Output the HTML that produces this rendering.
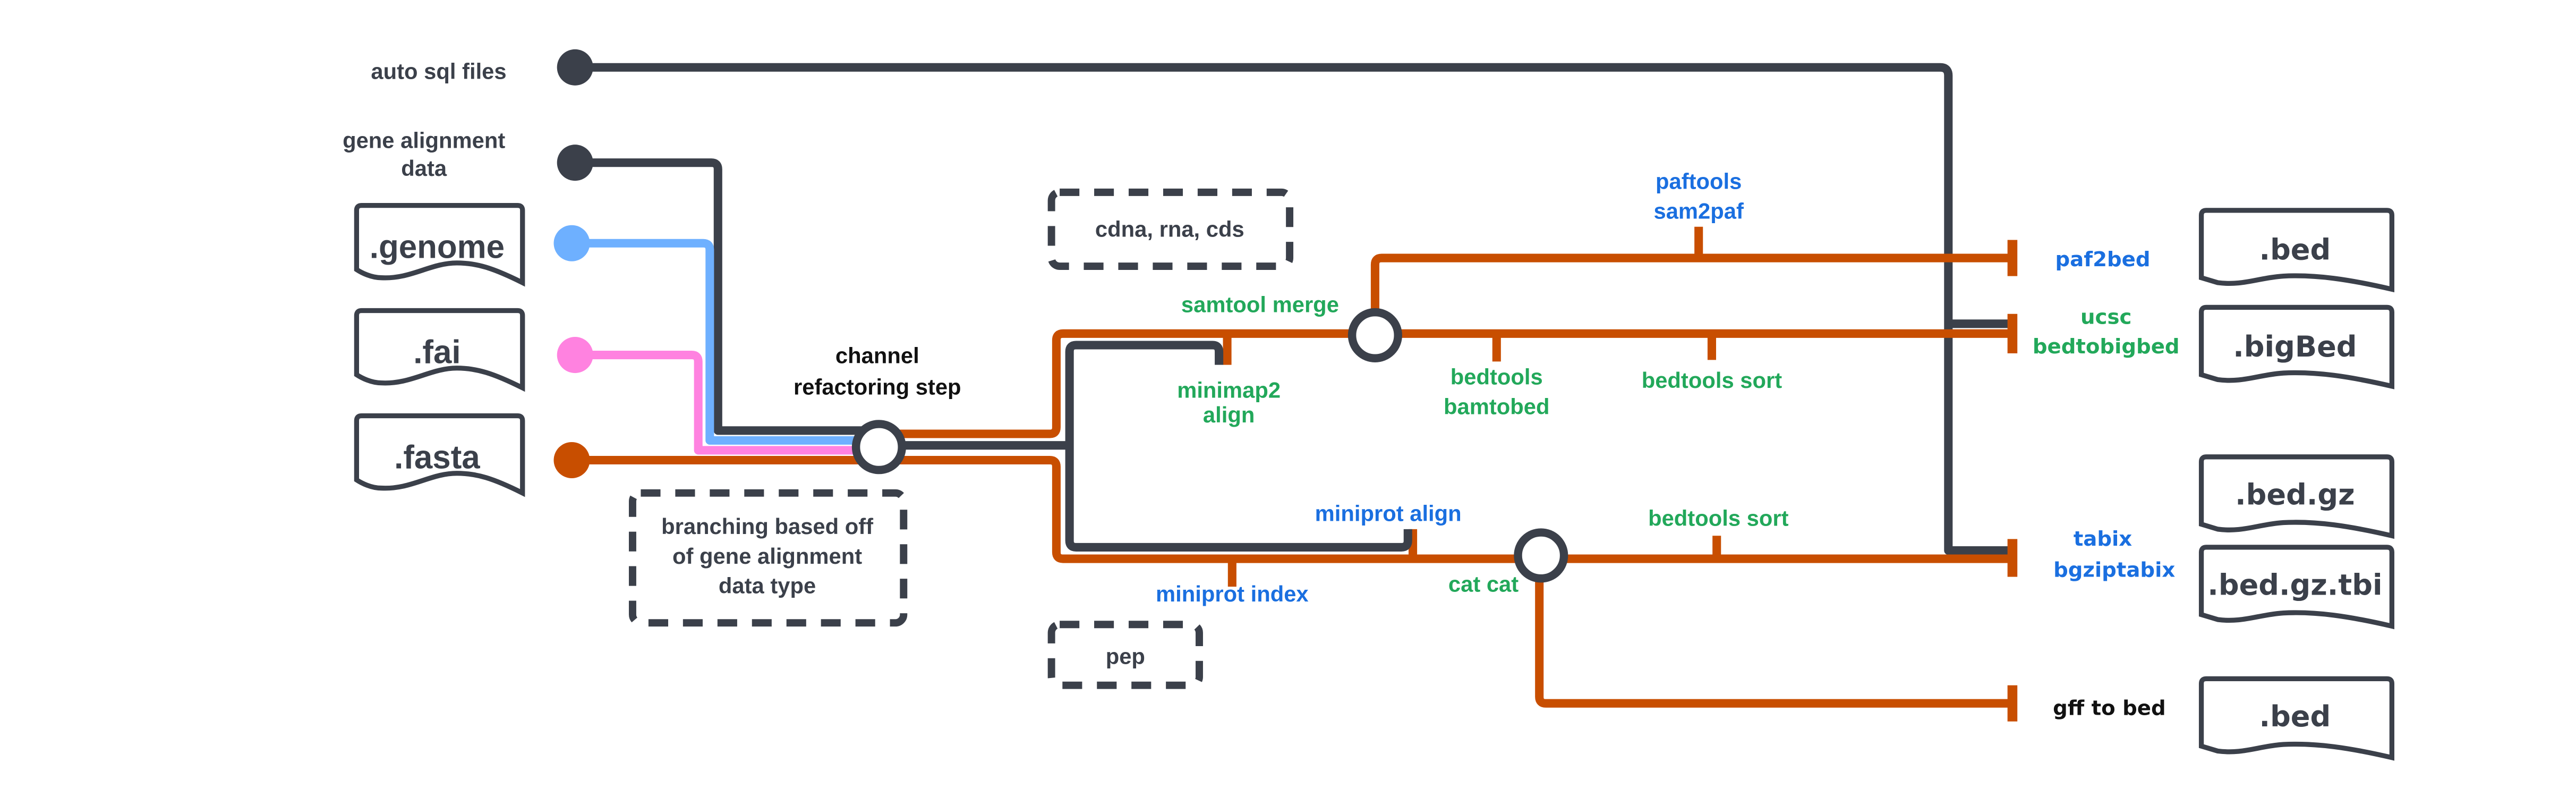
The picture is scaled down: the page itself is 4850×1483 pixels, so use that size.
<!DOCTYPE html>
<html><head><meta charset="utf-8"><style>
html,body{margin:0;padding:0;background:#fff;}
svg{display:block;}
text{font-family:"Liberation Sans",sans-serif;font-weight:bold;text-anchor:middle;}
.d{fill:#3b404a}.o{fill:#1a6fe0}.g{fill:#22a85a}.k{fill:#111}
.r text{font-family:"DejaVu Sans","Liberation Sans",sans-serif;}
</style></head><body>
<svg width="4850" height="1483" viewBox="0 0 1568 479.5" xmlns="http://www.w3.org/2000/svg">
<g fill="none" stroke-width="5.2" stroke-linejoin="round">
<path d="M350 41 H1181 Q1186 41 1186 46 V335 H1225 M1186 197 H1225" stroke="#3b404a"/>
<path d="M350 99 H433 Q437 99 437 103 V262 H535" stroke="#3b404a"/>
<path d="M348 148 H428 Q432 148 432 152 V268 H535" stroke="#6eb0ff"/>
<path d="M350 216 H421 Q425 216 425 220 V274 H535" stroke="#ff82e0"/>
<path d="M348 280 H535" stroke="#c84e00"/>
<path d="M535 264 H639 Q643 264 643 260 V207 Q643 203 647 203 H1225" stroke="#c84e00"/>
<path d="M535 280 H639 Q643 280 643 284 V336 Q643 340 647 340 H1225" stroke="#c84e00"/>
<path d="M837 203 V161 Q837 157 841 157 H1225" stroke="#c84e00"/>
<path d="M937 338 V424 Q937 428 941 428 H1225" stroke="#c84e00"/>
<path d="M747 203 V222 M911 203 V220 M1042 203 V219 M1034 138 V157 M750 340 V357 M860 322 V340 M1045 326 V340" stroke="#c84e00"/>
<path d="M535 271 H651 M651 271 V214 Q651 210 655 210 H738 Q742 210 742 214 V222 M651 271 V329 Q651 333 655 333 H853 Q857 333 857 329 V322" stroke="#3b404a"/>
</g>
<g fill="#c84e00">
<rect x="1222" y="146" width="6" height="22"/>
<rect x="1222" y="191" width="6" height="24"/>
<rect x="1222" y="328" width="6" height="23"/>
<rect x="1222" y="417" width="6" height="22"/>
</g>
<circle cx="350" cy="41" r="11" fill="#3b404a"/>
<circle cx="350" cy="99" r="11" fill="#3b404a"/>
<circle cx="348" cy="148" r="11" fill="#6eb0ff"/>
<circle cx="350" cy="216" r="11" fill="#ff82e0"/>
<circle cx="348" cy="280" r="11" fill="#c84e00"/>
<g fill="#fff" stroke="#3b404a" stroke-width="5">
<circle cx="535" cy="272" r="14"/>
<circle cx="837" cy="204" r="14"/>
<circle cx="938" cy="338" r="14"/>
</g>
<g fill="none" stroke="#3b404a" stroke-width="4.5" stroke-dasharray="12 9">
<rect x="385" y="300" width="165" height="79" rx="5"/>
<rect x="640" y="117" width="145" height="45" rx="5"/>
<rect x="640" y="380" width="90" height="37" rx="5"/>
</g>
<g fill="#fff" stroke="#3b404a" stroke-width="3">
<path d="M217 164 V128 Q217 125 220 125 H315 Q318 125 318 128 V172 C300 163 290 160 278 160 C262 160 250 170 232 169 C226 169 220 166 217 164 Z"/>
<path d="M217 228 V192 Q217 189 220 189 H315 Q318 189 318 192 V236 C300 227 290 224 278 224 C262 224 250 234 232 233 C226 233 220 230 217 228 Z"/>
<path d="M217 292 V256 Q217 253 220 253 H315 Q318 253 318 256 V300 C300 291 290 288 278 288 C262 288 250 298 232 297 C226 297 220 294 217 292 Z"/>
<path d="M1340 169 V131 Q1340 128 1343 128 H1453 Q1456 128 1456 131 V176 C1430 170 1410 167 1390 168 C1375 169 1365 174 1350 172 Z"/>
<path d="M1340 228 V190 Q1340 187 1343 187 H1453 Q1456 187 1456 190 V235 C1430 229 1410 226 1390 227 C1375 228 1365 233 1350 231 Z"/>
<path d="M1340 319 V281 Q1340 278 1343 278 H1453 Q1456 278 1456 281 V326 C1430 320 1410 317 1390 318 C1375 319 1365 324 1350 322 Z"/>
<path d="M1340 374 V336 Q1340 333 1343 333 H1453 Q1456 333 1456 336 V381 C1430 375 1410 372 1390 373 C1375 374 1365 379 1350 377 Z"/>
<path d="M1340 454 V416 Q1340 413 1343 413 H1453 Q1456 413 1456 416 V461 C1430 455 1410 452 1390 453 C1375 454 1365 459 1350 457 Z"/>
</g>
<g class="d" font-size="20">
<text x="266" y="157">.genome</text>
<text x="266" y="221">.fai</text>
<text x="266" y="285">.fasta</text>
</g>
<g class="d r" font-size="17.5">
<text x="1397" y="158">.bed</text>
<text x="1397" y="217">.bigBed</text>
<text x="1397" y="307">.bed.gz</text>
<text x="1397" y="362">.bed.gz.tbi</text>
<text x="1397" y="442">.bed</text>
</g>
<g class="d" font-size="13.5">
<text x="267" y="48">auto sql files</text>
<text x="258" y="90">gene alignment</text>
<text x="258" y="107">data</text>
<text x="467" y="325">branching based off</text>
<text x="467" y="343">of gene alignment</text>
<text x="467" y="361">data type</text>
<text x="712" y="144">cdna, rna, cds</text>
<text x="685" y="404">pep</text>
</g>
<g class="k" font-size="13.5">
<text x="534" y="221">channel</text>
<text x="534" y="240">refactoring step</text>
</g>
<g class="g" font-size="13.5">
<text x="767" y="190">samtool merge</text>
<text x="748" y="242">minimap2</text>
<text x="748" y="257">align</text>
<text x="911" y="234">bedtools</text>
<text x="911" y="252">bamtobed</text>
<text x="1042" y="236">bedtools sort</text>
<text x="1046" y="320">bedtools sort</text>
<text x="903" y="360">cat cat</text>
</g>
<g class="o" font-size="13.5">
<text x="1034" y="115">paftools</text>
<text x="1034" y="133">sam2paf</text>
<text x="845" y="317">miniprot align</text>
<text x="750" y="366">miniprot index</text>
</g>
<g class="r" font-size="12.5">
<text class="o" x="1280" y="162">paf2bed</text>
<text class="g" x="1282" y="197">ucsc</text>
<text class="g" x="1282" y="215">bedtobigbed</text>
<text class="o" x="1280" y="332">tabix</text>
<text class="o" x="1287" y="351">bgziptabix</text>
<text class="k" x="1284" y="435">gff to bed</text>
</g>
</svg>
</body></html>
